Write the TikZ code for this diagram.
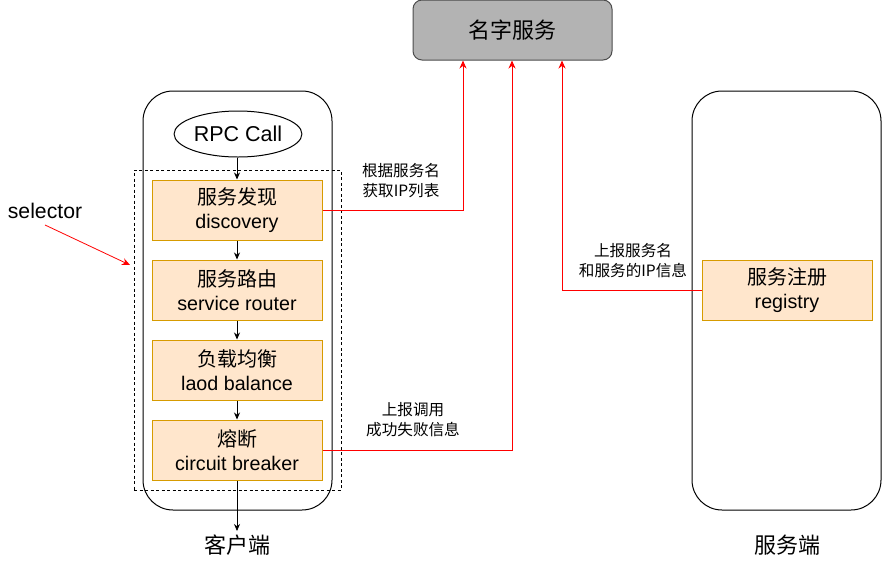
\documentclass[tikz,border=0pt]{standalone}
\usepackage{fontspec}
\setmainfont{Liberation Sans}
\newfontfamily\cjk{Noto Sans CJK SC}
\usetikzlibrary{positioning, shapes.geometric, arrows.meta}

\definecolor{stepfill}{RGB}{255,230,204}
\definecolor{stepline}{RGB}{215,155,0}
\definecolor{nsfill}{RGB}{179,179,179}

\tikzset{
    stepbox/.style={draw=stepline, fill=stepfill, line width=1pt, minimum width=170pt, minimum height=60pt, align=center, font=\fontsize{19.7}{24}\selectfont},
    cn/.style={font=\cjk\fontsize{20}{24}\selectfont},
    sidebox/.style={draw, line width=1pt, rounded corners=30pt, minimum width=189pt, minimum height=419pt},
    flow/.style={-{Stealth[length=7pt,width=6pt]}, line width=0.8pt},
    redflow/.style={-{Stealth[length=8pt,width=7pt]}, draw=red, line width=1pt},
    note/.style={align=center, font=\cjk\fontsize{15.6}{20}\selectfont},
}

\begin{document}
\begin{tikzpicture}[x=1pt, y=1pt]
\useasboundingbox (0,0) rectangle (883,-563);

% name service
\node[draw=black!70, fill=nsfill, line width=1pt, rounded corners=9pt, minimum width=199pt, minimum height=60pt, font=\cjk\fontsize{22}{24}\selectfont] (ns) at (512.5,-30) {名字服务};

% client and server
\node[sidebox] (client) at (237.5,-300.5) {};
\node[sidebox] (server) at (786.5,-300.5) {};

% selector frame
\node[draw, dashed, dash pattern=on 3pt off 2.5pt, line width=0.8pt, minimum width=207pt, minimum height=320pt] (selbox) at (237.5,-330) {};

\node[draw, ellipse, line width=1pt, minimum width=120pt, minimum height=46pt, inner sep=1pt, font=\fontsize{21.5}{24}\selectfont] (rpc) at (238,-134) {RPC Call};

\node[stepbox] (disc) at (237,-210) {{\cjk\fontsize{20}{24}\selectfont 服务发现}\\discovery};
\node[stepbox, below=19pt of disc] (router) {{\cjk\fontsize{20}{24}\selectfont 服务路由}\\service router};
\node[stepbox, below=19pt of router] (lb) {{\cjk\fontsize{20}{24}\selectfont 负载均衡}\\laod balance};
\node[stepbox, below=19pt of lb] (brk) {{\cjk\fontsize{20}{24}\selectfont 熔断}\\circuit breaker};

\node[stepbox] (reg) at (787,-290) {{\cjk\fontsize{20}{24}\selectfont 服务注册}\\registry};

\draw[flow] (rpc.south -| disc.north) -- (disc.north);
\draw[flow] (disc) -- (router);
\draw[flow] (router) -- (lb);
\draw[flow] (lb) -- (brk);
\coordinate (out) at (237,-531);
\draw[flow] (brk.south) -- (out);

\node[font=\cjk\fontsize{22}{24}\selectfont] (clientlbl) at (237,-545) {客户端};
\node[font=\cjk\fontsize{22}{24}\selectfont] (serverlbl) at (787,-545) {服务端};

% red connectors
\draw[redflow] (disc.east) -| ([xshift=-49.5pt]ns.south);
\draw[redflow] (brk.east) -| ([xshift=-0.5pt]ns.south);
\draw[redflow] (reg.west) -| ([xshift=49.5pt]ns.south);

\node[note] (getlbl) at (401,-180.5) {根据服务名\\获取IP列表};
\node[note] (reportlbl) at (413,-420) {上报调用\\成功失败信息};
\node[note] (reglbl) at (633,-261) {上报服务名\\和服务的IP信息};

% selector
\node[font=\fontsize{21.2}{24}\selectfont, inner sep=0pt] (sel) at (45,-211) {selector};
\coordinate (selpt) at (130,-265);
\draw[-{Stealth[length=8pt,width=7pt]}, draw=red, line width=0.8pt] ([yshift=-6pt]sel.south) -- (selpt);
\end{tikzpicture}
\end{document}
